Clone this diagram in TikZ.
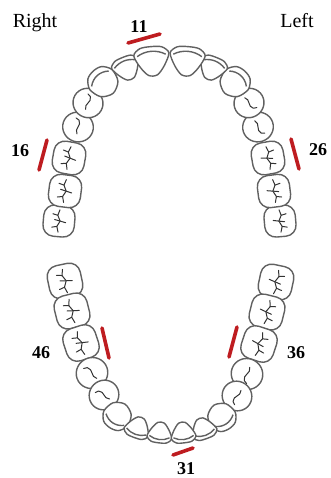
\documentclass[tikz,border=0pt]{standalone}
\usepackage{fontspec}
\setmainfont{Liberation Serif}
\usepackage{tikz}

\definecolor{markred}{RGB}{190,28,32}

\tikzset{
    toothline/.style={draw=black!62, line width=1.4pt, fill=white},
    fissure/.style={draw=black!80, line width=1pt, line cap=round, line join=round},
    redbar/.style={draw=markred, line width=3.6pt, line cap=round},
    side/.style={font=\fontsize{20}{22}\selectfont, inner sep=0pt, anchor=base},
    num/.style={font=\fontsize{18}{20}\selectfont\bfseries, inner sep=0pt},
}

% #1 x, #2 y (pixels from top left), #3 outward angle, #4 scale
\newcommand{\molar}[4]{%
    \begin{scope}[shift={(#1,-#2)}, rotate=#3-90, scale=#4]
        \draw[toothline, rounded corners=11pt] (-14,-14) rectangle (14,14);
        \draw[fissure] (-10,0) -- (-5,1.5) -- (0,-1) -- (5,1.5) -- (10,0);
        \draw[fissure] (-5,1.5) -- (-6,6) (0,-1) -- (-1,-6) (0,-1) -- (1,4) (5,1.5) -- (6,6);
    \end{scope}}
\newcommand{\premolar}[4]{%
    \begin{scope}[shift={(#1,-#2)}, rotate=#3-90, scale=#4]
        \draw[toothline] (0,0) ellipse [x radius=13, y radius=13.5];
        \draw[fissure] (-6,-1) .. controls (-2,3) and (2,-3) .. (6,1) -- (7,4);
    \end{scope}}
\newcommand{\canine}[4]{%
    \begin{scope}[shift={(#1,-#2)}, rotate=#3-90, scale=#4]
        \draw[toothline] plot[smooth cycle] coordinates {(-13,4) (-8,12) (0,14) (8,12) (13,4) (10,-7) (0,-12) (-10,-7)};
        \draw[toothline] (-10,5) .. controls (-4,10) and (4,10) .. (10,5);
    \end{scope}}
\newcommand{\incisor}[4]{%
    \begin{scope}[shift={(#1,-#2)}, rotate=#3-90, scale=#4]
        \draw[toothline] plot[smooth cycle] coordinates {(-16,7) (-10,13) (0,14) (10,13) (16,7) (11,-4) (4,-12) (-4,-12) (-11,-4)};
        \draw[toothline] (-13,6) .. controls (-5,11) and (5,11) .. (13,6);
    \end{scope}}

\begin{document}
\begin{tikzpicture}[x=1pt, y=1pt]
    \useasboundingbox (0,0) rectangle (330,-478);

    % upper arch
    \molar{59}{221}{175}{1.12}
    \molar{280}{221}{5}{1.12}
    \molar{65}{191}{173}{1.15}
    \molar{274}{191}{7}{1.15}
    \molar{69}{158}{170}{1.15}
    \molar{268}{158}{10}{1.15}
    \premolar{78}{127}{162}{1.14}
    \premolar{258}{127}{18}{1.14}
    \premolar{88}{103}{150}{1.12}
    \premolar{249}{103}{30}{1.12}
    \canine{104}{83}{132}{1.15}
    \canine{234}{83}{48}{1.15}
    \incisor{127}{69}{112}{0.88}
    \incisor{212}{69}{68}{0.88}
    \incisor{152}{62}{95}{1.1}
    \incisor{187}{62}{85}{1.1}

    % lower arch
    \molar{65}{281}{192}{1.2}
    \molar{276}{282}{348}{1.2}
    \molar{72}{311}{194}{1.2}
    \molar{267}{312}{346}{1.2}
    \molar{81}{343}{198}{1.2}
    \molar{259}{344}{342}{1.2}
    \premolar{92}{373}{212}{1.18}
    \premolar{247}{374}{328}{1.18}
    \premolar{104}{395}{225}{1.12}
    \premolar{237}{396}{315}{1.12}
    \canine{118}{415}{237}{1.08}
    \canine{221}{416}{303}{1.08}
    \incisor{138}{427}{250}{0.8}
    \incisor{203}{428}{290}{0.8}
    \incisor{160}{432}{263}{0.78}
    \incisor{183}{432}{277}{0.78}

    \node[side] (right) at (35,-28) {Right};
    \node[side] (left) at (297,-28) {Left};

    \node[num] (n11) at (139,-27) {11};
    \node[num] (n16) at (20,-151) {16};
    \node[num] (n26) at (318,-150) {26};
    \node[num] (n46) at (41,-353) {46};
    \node[num] (n36) at (296,-353) {36};
    \node[num] (n31) at (186,-469) {31};

    \draw[redbar] (128,-43) -- (160,-34);
    \draw[redbar] (47,-140) -- (39,-170);
    \draw[redbar] (291,-139) -- (299,-169);
    \draw[redbar] (102,-328) -- (109,-358);
    \draw[redbar] (237,-327) -- (229,-357);
    \draw[redbar] (173,-455) -- (193,-448);
\end{tikzpicture}
\end{document}
